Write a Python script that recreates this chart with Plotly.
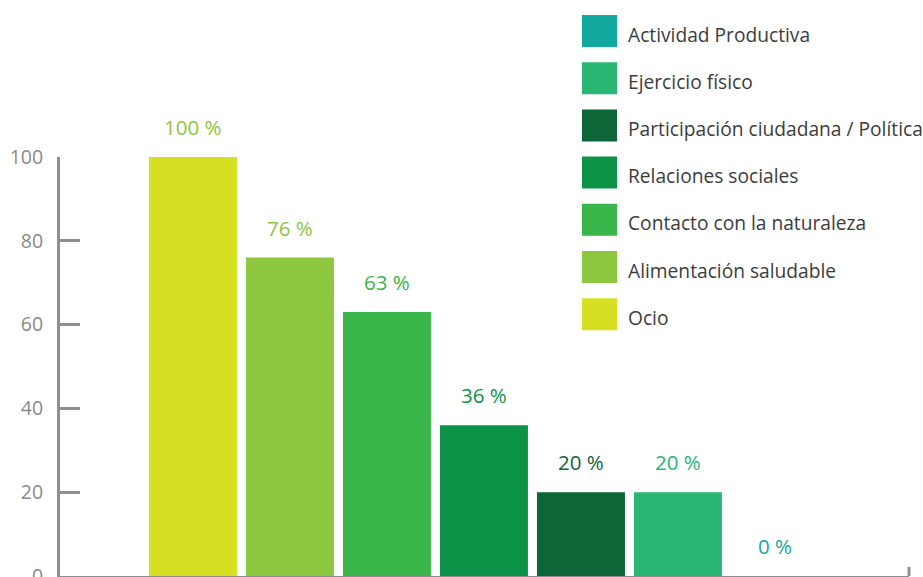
import plotly.graph_objects as go

categories = ["Ocio", "Alimentación saludable", "Contacto con la naturaleza",
              "Relaciones sociales", "Participación ciudadana / Política",
              "Ejercicio físico", "Actividad Productiva"]
values = [100, 76, 63, 36, 20, 20, 0]
bar_colors = ["#d6df22", "#8dc63f", "#3ab54a", "#0d9347", "#0e6538", "#2ab673", "#12a89d"]
label_colors = ["#8dc63f", "#8dc63f", "#3ab54a", "#0d9347", "#0e6538", "#2ab673", "#12a89d"]
y_ticks = [0, 20, 40, 60, 80, 100]

FONT = "Open Sans"
AXIS_GRAY = "#8e8f91"

fig = go.Figure()
for cat, v, c in zip(categories, values, bar_colors):
    fig.add_trace(go.Bar(x=[cat], y=[v], name=cat, marker=dict(color=c, line=dict(width=0)),
                         width=0.907, showlegend=False, cliponaxis=False))

annotations = []
for cat, v, lc in zip(categories, values, label_colors):
    annotations.append(dict(x=cat, y=v, xref="x", yref="y", text=f"{v} %", showarrow=False,
                            yshift=30, yanchor="middle",
                            font=dict(family=FONT, size=20.5, color=lc)))

# manual legend (large swatches), top-to-bottom in reverse order of bars
shapes = []
n = len(categories)
for k, idx in enumerate(reversed(range(n))):
    yc = 31 + k * 47.2
    shapes.append(dict(type="rect", xref="paper", yref="paper",
                       x0=(582 - 60) / 849, x1=(617 - 60) / 849,
                       y0=(576 - (yc + 16)) / 419, y1=(576 - (yc - 16)) / 419,
                       fillcolor=bar_colors[idx], line=dict(width=0), layer="above"))
    annotations.append(dict(x=(626 - 60) / 849, y=(576 - (yc + 3)) / 419, xref="paper", yref="paper",
                            text=categories[idx], showarrow=False, xanchor="left", yanchor="middle",
                            font=dict(family=FONT, size=19.2, color="#3c3c3c")))

# small end tick on the x axis
shapes.append(dict(type="line", xref="paper", yref="paper", x0=1, x1=1, y0=0, y1=9 / 419,
                   line=dict(color=AXIS_GRAY, width=3)))

fig.update_layout(
    width=923, height=577,
    margin=dict(l=60, r=14, t=157, b=1, autoexpand=False),
    paper_bgcolor="white", plot_bgcolor="white",
    barmode="overlay",
    showlegend=False,
    annotations=annotations,
    shapes=shapes,
    xaxis=dict(type="category", categoryorder="array", categoryarray=categories,
               range=[-1.371, 7.382], showticklabels=False, ticks="", automargin=False,
               showgrid=False, zeroline=False, showline=True, linecolor=AXIS_GRAY, linewidth=3),
    yaxis=dict(range=[0, 100], tickvals=y_ticks, ticks="inside", ticklen=20, tickwidth=3,
               tickcolor=AXIS_GRAY, showline=True, linecolor=AXIS_GRAY, linewidth=3,
               showgrid=False, zeroline=False, ticklabelstandoff=10, automargin=False,
               ticklabeloverflow="allow",
               tickfont=dict(family=FONT, size=19.5, color="#8a8a8a")),
    font=dict(family=FONT),
)

fig.write_html("out.html", config={"displayModeBar": False},
               post_script="document.body.style.margin='0';document.body.style.overflow='hidden';")
